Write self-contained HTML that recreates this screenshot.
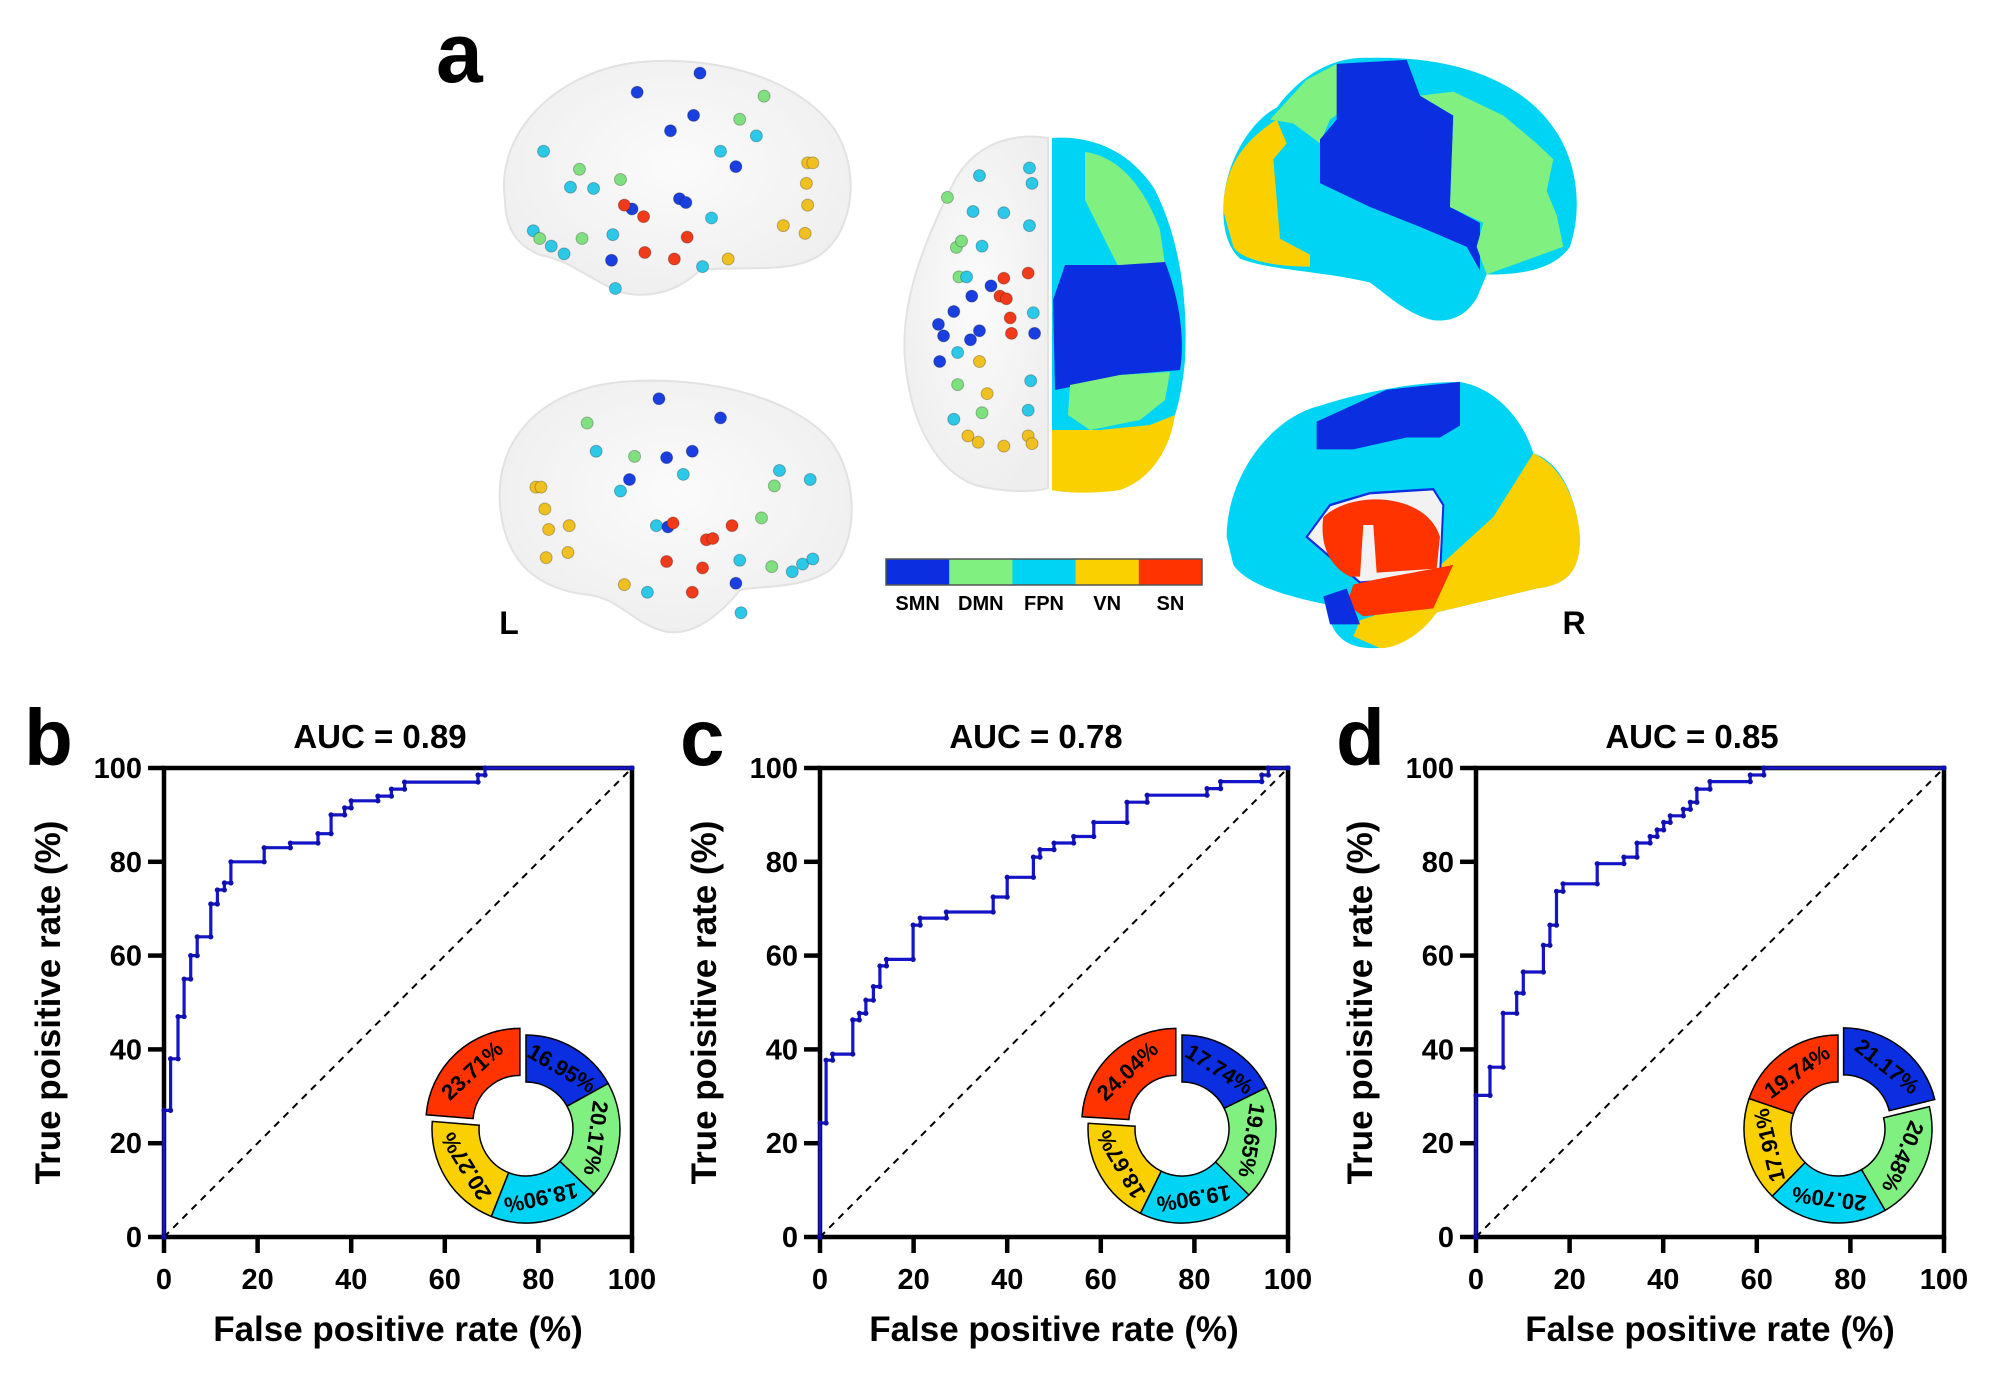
<!DOCTYPE html>
<html><head><meta charset="utf-8"><style>
html,body{margin:0;padding:0;background:#fff;}
svg{display:block;font-family:"Liberation Sans",Arial,sans-serif;}
</style></head><body>
<svg id="fig" width="2000" height="1386" viewBox="0 0 2000 1386" xmlns="http://www.w3.org/2000/svg">
<rect width="2000" height="1386" fill="#fff"/>
<text x="436" y="82" font-size="84" font-weight="bold">a</text>
<g id="brains">
  <defs>
    <radialGradient id="glass" cx="50%" cy="45%" r="60%">
      <stop offset="0" stop-color="#fbfbfb"/><stop offset="1" stop-color="#eeeeee"/>
    </radialGradient>
  </defs>
  <path d="M505,200 C495,130 560,70 640,62 C720,55 800,80 835,130 C860,170 855,230 820,255 C790,275 740,265 700,270 C680,290 650,300 620,292 C590,280 570,260 540,255 C515,245 505,225 505,200 Z" fill="url(#glass)" stroke="#e2e2e2" stroke-width="2"/>
  <path d="M500,505 C495,440 540,390 620,382 C700,375 790,395 830,440 C860,480 858,545 830,570 C800,590 760,585 740,590 C720,615 690,640 660,630 C630,620 620,600 590,595 C540,590 505,565 500,505 Z" fill="url(#glass)" stroke="#e2e2e2" stroke-width="2"/>
  <path d="M1048,138 C1010,132 975,145 955,180 C925,240 900,300 905,360 C910,420 935,470 975,485 C1005,493 1035,492 1048,488 Z" fill="url(#glass)" stroke="#e2e2e2" stroke-width="2"/>
  <g>
    <path d="M1052,138 C1090,135 1130,150 1155,190 C1180,240 1188,300 1185,360 C1180,420 1160,470 1120,488 C1095,494 1065,493 1052,490 Z" fill="#00d4f5"/>
    <path d="M1085,152 C1110,155 1140,175 1160,230 L1165,265 L1120,270 L1105,240 L1085,200 Z" fill="#80f080"/>
    <path d="M1065,265 L1120,265 L1165,262 C1180,300 1185,340 1180,370 L1120,375 L1080,385 L1055,390 L1053,300 Z" fill="#0a2ee0"/>
    <path d="M1070,385 L1120,375 L1170,372 L1165,400 L1140,420 L1090,430 L1068,415 Z" fill="#80f080"/>
    <path d="M1052,430 L1100,430 L1150,425 L1175,415 C1170,450 1150,480 1120,490 C1095,494 1065,493 1052,490 Z" fill="#fbd000"/>
  </g>
  <g transform="translate(1220,40) scale(0.3333,0.3975)">
    <path d="M10,430 C10,300 100,200 170,170 C250,80 350,40 450,45 C700,40 900,100 1000,220 C1070,300 1090,420 1050,520 C1000,580 900,590 800,590 L770,650 C740,690 700,710 640,705 C560,690 500,640 450,610 C300,580 150,580 60,550 C20,520 10,470 10,430 Z" fill="#00d4f5"/>
    <path d="M10,430 C10,330 60,260 170,200 L200,260 L160,300 L180,500 L270,540 L270,570 C150,570 60,550 40,520 Z" fill="#fbd000"/>
    <path d="M150,200 L260,100 L350,60 L380,170 L330,200 L300,260 L220,210 Z" fill="#80f080"/>
    <path d="M350,60 L560,50 L600,140 L700,190 L690,420 L780,460 L780,580 L740,520 L600,470 L450,420 L300,360 L300,250 L350,200 Z" fill="#0a2ee0"/>
    <path d="M600,140 L700,130 L850,190 L950,260 L1000,300 L980,380 L1010,440 L1030,520 L800,590 L770,520 L790,460 L690,420 L700,190 Z" fill="#80f080"/>
  </g>
  <g transform="translate(1220,40) scale(0.3333,0.3975)">
    <path d="M20,1250 C20,1100 150,950 300,920 C450,880 600,860 720,860 C850,880 920,980 940,1040 C1020,1060 1070,1150 1080,1250 C1080,1330 1050,1370 950,1380 C850,1400 750,1420 650,1440 C600,1500 530,1530 460,1530 C380,1530 330,1500 320,1420 C200,1400 80,1370 40,1320 Z" fill="#00d4f5"/>
    <path d="M290,960 L500,880 L720,860 L720,970 L660,1000 L560,1000 L400,1030 L290,1030 Z" fill="#0a2ee0"/>
    <path d="M940,1040 C1020,1070 1070,1150 1080,1250 C1080,1330 1050,1370 950,1380 C850,1400 750,1420 650,1440 C600,1500 530,1530 480,1530 L400,1500 L420,1460 L560,1420 L650,1330 L820,1200 Z" fill="#fbd000"/>
    <path d="M260,1250 L330,1170 L450,1140 L640,1130 L670,1170 L660,1350 L420,1365 Z" fill="#f2f2f2" stroke="#0a2ee0" stroke-width="6"/>
    <path d="M310,1200 C400,1130 620,1140 660,1250 L650,1330 L470,1340 L460,1220 L430,1220 L420,1350 L390,1350 C320,1320 300,1260 310,1200 Z" fill="#ff3300"/>
    <path d="M400,1370 C500,1350 650,1330 700,1320 L640,1430 L430,1450 L380,1420 Z" fill="#ff3300"/>
    <path d="M310,1400 L380,1380 L420,1470 L330,1470 Z" fill="#0a2ee0"/>
  </g>
  <g id="dots"></g>
  <g id="cbar"></g>
  <text x="509" y="634" font-size="32" font-weight="bold" text-anchor="middle">L</text>
  <text x="1574" y="634" font-size="32" font-weight="bold" text-anchor="middle">R</text>
</g>
<g id="charts"></g>
</svg>
<script>
// ===== ROC data (FPR %, TPR %) step vertices =====
const fprB = [0,0,1.4,1.4,3,3,4.3,4.3,5.7,5.7,7.1,7.1,10,10,11.4,11.4,12.9,12.9,14.3,14.3,21.4,21.4,27,27,32.9,32.9,35.7,35.7,38.6,38.6,40,40,45.7,45.7,48.6,48.6,51.4,51.4,67.1,67.1,68.6,68.6,100];
const tprB = [0,27,27,38,38,47,47,55,55,60,60,64,64,71,71,74,74,75.5,75.5,80,80,83,83,84,84,86,86,90,90,91.5,91.5,93,93,94,94,95.5,95.5,97,97,98.5,98.5,100,100];
const fprC = [0,0,1.3,1.3,2.7,2.7,7,7,8.4,8.4,9.8,9.8,11.4,11.4,12.8,12.8,14.2,14.2,19.9,19.9,21.4,21.4,27,27,37,37,40,40,45.6,45.6,47,47,50,50,54.2,54.2,58.5,58.5,65.6,65.6,69.9,69.9,82.7,82.7,85.6,85.6,94.4,94.4,95.8,95.8,100];
const tprC = [0,24.3,24.3,37.7,37.7,39,39,46.3,46.3,47.7,47.7,50.5,50.5,53.4,53.4,57.8,57.8,59.2,59.2,66.5,66.5,68,68,69.3,69.3,72.5,72.5,76.7,76.7,81,81,82.6,82.6,84,84,85.4,85.4,88.4,88.4,92.7,92.7,94.2,94.2,95.6,95.6,97.1,97.1,98.5,98.5,100,100];
const fprD = [0,0,3,3,5.8,5.8,8.7,8.7,10.1,10.1,14.4,14.4,15.8,15.8,17.2,17.2,18.6,18.6,25.9,25.9,31.6,31.6,34.4,34.4,37.2,37.2,38.7,38.7,40.1,40.1,41.5,41.5,44.3,44.3,45.8,45.8,47.2,47.2,50,50,58.6,58.6,61.5,61.5,100];
const tprD = [0,30.2,30.2,36.2,36.2,47.7,47.7,52,52,56.5,56.5,62.2,62.2,66.5,66.5,73.7,73.7,75.3,75.3,79.6,79.6,81,81,84,84,85.4,85.4,86.8,86.8,88.4,88.4,89.8,89.8,91.2,91.2,92.7,92.7,95.5,95.5,97.1,97.1,98.5,98.5,100,100];
const aucLabels = ["AUC = 0.89","AUC = 0.78","AUC = 0.85"];
const panelLetters = ["b","c","d"];
const ticks = [0,20,40,60,80,100];
// donut shares: SMN, DMN, FPN, VN, SN
const networks = ["SMN","DMN","FPN","VN","SN"];
const shareB = [16.95,20.17,18.90,20.27,23.71];
const shareC = [17.74,19.65,19.90,18.67,24.04];
const shareD = [21.17,20.48,20.70,17.91,19.74];
const explodeIdx = [4,4,0];
const netColors = ["#0a2ee0","#80f080","#00d4f5","#fbd000","#ff3300"];

const NS="http://www.w3.org/2000/svg";
function mk(tag,attrs,parent){const e=document.createElementNS(NS,tag);for(const k in attrs)e.setAttribute(k,attrs[k]);if(parent)parent.appendChild(e);return e;}

// colorbar
const cbar=document.getElementById('cbar');
networks.forEach((n,i)=>{
  const w=316/5;
  const r=mk('rect',{x:886+i*w,y:559,width:w+0.5,height:26,fill:netColors[i]},cbar);
  
  
  const t=mk('text',{x:886+i*w+w/2,y:610,'font-size':20,'font-weight':'bold','text-anchor':'middle'},cbar);
  t.textContent=n;
  
  
});
mk('rect',{x:886,y:559,width:316,height:26,fill:'none',stroke:'#555','stroke-width':1.5},cbar);

// node dots (overview coords * 1.282)
const cmap={B:"#1a3fe0",G:"#7fe07f",C:"#2cc8e8",Y:"#f0c020",R:"#f03a1a"};
const dotList=[[546,57,'B'],[497,72,'B'],[523,102,'B'],[541,90,'B'],[577,93,'G'],[596,75,'G'],[590,106,'C'],[562,118,'C'],[574,130,'B'],[424,118,'C'],[445,146,'C'],[452,132,'G'],[484,140,'G'],[463,147,'C'],[493,163,'B'],[502,169,'R'],[487,160,'R'],[530,155,'B'],[535,158,'B'],[555,170,'C'],[630,127,'Y'],[634,127,'Y'],[629,143,'Y'],[630,160,'Y'],[611,176,'Y'],[628,182,'Y'],[416,180,'C'],[421,186,'G'],[430,192,'C'],[454,186,'G'],[478,183,'C'],[440,198,'C'],[477,203,'B'],[503,197,'R'],[536,185,'R'],[526,202,'R'],[568,202,'Y'],[548,208,'C'],[480,225,'C'],
[514,311,'B'],[562,326,'B'],[458,330,'G'],[465,352,'C'],[495,356,'G'],[520,357,'B'],[540,352,'B'],[533,370,'C'],[484,383,'C'],[491,374,'B'],[608,367,'C'],[604,379,'G'],[632,374,'C'],[418,380,'Y'],[422,380,'Y'],[425,397,'Y'],[428,413,'Y'],[444,410,'Y'],[426,435,'Y'],[512,410,'C'],[521,411,'B'],[525,408,'R'],[551,421,'R'],[556,420,'R'],[571,410,'R'],[594,404,'G'],[602,442,'G'],[626,440,'C'],[634,436,'C'],[618,446,'C'],[520,438,'R'],[548,443,'R'],[487,456,'Y'],[505,462,'C'],[540,462,'R'],[574,455,'B'],[578,478,'C'],[443,431,'Y'],[577,437,'C'],
[764,137,'C'],[803,131,'C'],[805,143,'C'],[739,154,'G'],[759,165,'C'],[783,166,'C'],[803,176,'C'],[746,193,'G'],[750,188,'G'],[766,192,'C'],[748,216,'G'],[754,216,'C'],[773,223,'B'],[802,213,'R'],[758,231,'B'],[780,231,'R'],[785,233,'R'],[783,217,'R'],[744,243,'B'],[732,253,'B'],[757,265,'B'],[764,258,'B'],[789,260,'R'],[788,248,'R'],[806,244,'C'],[807,260,'B'],[736,262,'B'],[747,275,'C'],[733,282,'B'],[764,282,'Y'],[747,300,'G'],[744,327,'C'],[766,322,'G'],[770,307,'Y'],[804,297,'C'],[802,320,'C'],[755,340,'Y'],[763,345,'Y'],[783,348,'Y'],[802,340,'Y'],[805,346,'Y']];
const dg=document.getElementById('dots');
dotList.forEach(d=>{
  const c=mk('circle',{cx:d[0]*1.282,cy:d[1]*1.282,r:6,fill:cmap[d[2]],stroke:'rgba(0,0,0,0.25)','stroke-width':1},dg);
  
  
});

// charts
const charts=document.getElementById('charts');
const panels=[{x0:164,fpr:fprB,tpr:tprB,share:shareB},{x0:820,fpr:fprC,tpr:tprC,share:shareC},{x0:1476,fpr:fprD,tpr:tprD,share:shareD}];
const Y0=768,W=468,H=469;
panels.forEach((p,pi)=>{
  const g=mk('g',{},charts);
  
  
  const sx=v=>p.x0+v/100*W, sy=v=>Y0+H-v/100*H;
  const L=mk('text',{x:p.x0-140,y:765,'font-size':80,'font-weight':'bold'},g);L.textContent=panelLetters[pi];
  
  
  const T=mk('text',{x:p.x0+W/2-18,y:748,'font-size':33,'font-weight':'bold','text-anchor':'middle'},g);T.textContent=aucLabels[pi];
  
  
  // diagonal
  const dl=mk('line',{x1:sx(0),y1:sy(0),x2:sx(100),y2:sy(100),stroke:'#000','stroke-width':2,'stroke-dasharray':'7,6'},g);
  
  
  // axes frame
  const fr=mk('rect',{x:sx(0),y:sy(100),width:W,height:H,fill:'none',stroke:'#000','stroke-width':4.5},g);
  
  
  ticks.forEach(t=>{
    mk('line',{x1:sx(t),y1:sy(0),x2:sx(t),y2:sy(0)+16,stroke:'#000','stroke-width':4.5},g);
    mk('line',{x1:sx(0),y1:sy(t),x2:sx(0)-16,y2:sy(t),stroke:'#000','stroke-width':4.5},g);
    const xt=mk('text',{x:sx(t),y:sy(0)+52,'font-size':29,'font-weight':'bold','text-anchor':'middle'},g);xt.textContent=t;
    
    
    const yt=mk('text',{x:sx(0)-22,y:sy(t)+10,'font-size':29,'font-weight':'bold','text-anchor':'end'},g);yt.textContent=t;
    
    
  });
  // ROC
  let d='';p.fpr.forEach((v,i)=>{d+=(i?'L':'M')+sx(v).toFixed(1)+','+sy(p.tpr[i]).toFixed(1);});
  const rl=mk('path',{d:d,fill:'none',stroke:'#1515c8','stroke-width':3.2},g);
  
  
  p.fpr.forEach((v,i)=>{
    const c=mk('circle',{cx:sx(v),cy:sy(p.tpr[i]),r:2.6,fill:'#1010b0'},g);
    
    
  });
  const xa=mk('text',{x:sx(50),y:1341,'font-size':35,'font-weight':'bold','text-anchor':'middle'},g);xa.textContent='False positive rate (%)';
  
  
  const yx=p.x0-104,yy=sy(50);
  const ya=mk('text',{x:yx,y:yy,'font-size':35,'font-weight':'bold','text-anchor':'middle',transform:`rotate(-90 ${yx} ${yy})`},g);ya.textContent='True poisitive rate (%)';
  
  
  // donut
  const cx=p.x0+362,cy=1129,R=94,r=47;
  const tot=p.share.reduce((a,b)=>a+b,0);let a0=0;
  p.share.forEach((s,i)=>{
    const a1=a0+s/tot*360, am=(a0+a1)/2, rad=x=>(x-90)*Math.PI/180;
    const off=i===explodeIdx[pi]?9:0;
    const ox=cx+off*Math.cos(rad(am)), oy=cy+off*Math.sin(rad(am));
    const P=(rr,a)=>[(ox+rr*Math.cos(rad(a))).toFixed(1),(oy+rr*Math.sin(rad(a))).toFixed(1)];
    const large=(a1-a0)>180?1:0;
    const pd=`M${P(R,a0)} A${R},${R} 0 ${large} 1 ${P(R,a1)} L${P(r,a1)} A${r},${r} 0 ${large} 0 ${P(r,a0)} Z`;
    const seg=mk('path',{d:pd,fill:netColors[i],stroke:'#000','stroke-width':1.5},g);
    
    
    const tp=P((R+r)/2,am);
    const tx=mk('text',{x:tp[0],y:tp[1],'font-size':22,'font-weight':'bold','text-anchor':'middle','dominant-baseline':'central',transform:`rotate(${am.toFixed(1)} ${tp[0]} ${tp[1]})`},g);
    tx.textContent=s.toFixed(2)+'%';
    
    
    a0=a1;
  });
});
</script>
</body></html>
